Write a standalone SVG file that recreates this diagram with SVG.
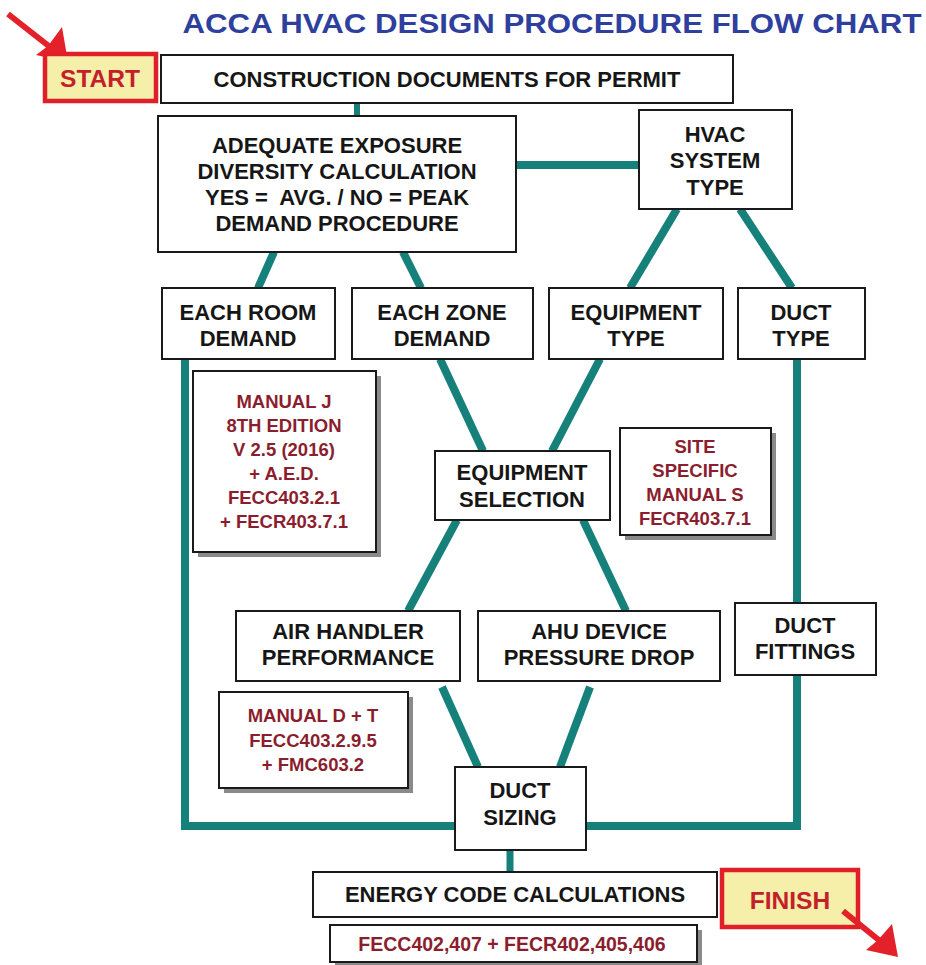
<svg xmlns="http://www.w3.org/2000/svg" width="926" height="965" viewBox="0 0 926 965">
<defs>
<style>
.bg{fill:#ffffff}
.box{fill:#ffffff;stroke:#1a1a1a;stroke-width:2}
.sh{fill:#8a8a8a}
.t{font-family:"Liberation Sans",Arial,sans-serif;font-weight:bold;font-size:22px;fill:#161616;text-anchor:middle}
.r{font-family:"Liberation Sans",Arial,sans-serif;font-weight:bold;font-size:18.5px;fill:#8b1e2e;text-anchor:middle}
.tag{fill:#f6efa9;stroke:#e01f28;stroke-width:4.5}
.tagt{font-family:"Liberation Sans",Arial,sans-serif;font-weight:bold;font-size:24.5px;fill:#c4202b;text-anchor:middle}
.c{stroke:#16807a;stroke-width:8;fill:none;stroke-linecap:butt}
.arr{fill:#e3212b}
.arrs{stroke:#e3212b;stroke-width:6;fill:none}
</style>
</defs>
<rect class="bg" x="0" y="0" width="926" height="965"/>
<text x="552" y="33" font-family="'Liberation Sans',Arial,sans-serif" font-weight="bold" font-size="27" fill="#2e3f9e" text-anchor="middle" textLength="739" lengthAdjust="spacingAndGlyphs">ACCA HVAC DESIGN PROCEDURE FLOW CHART</text>

<g id="connectors">
<line class="c" x1="357" y1="103" x2="357" y2="116" style="stroke-width:6"/>
<line class="c" x1="516" y1="165" x2="639" y2="165"/>
<line class="c" x1="677" y1="209" x2="630" y2="288"/>
<line class="c" x1="740" y1="209" x2="792" y2="288"/>
<line class="c" x1="274" y1="252" x2="258" y2="288"/>
<line class="c" x1="403" y1="252" x2="421" y2="288"/>
<line class="c" x1="440" y1="359" x2="483" y2="451"/>
<line class="c" x1="600" y1="359" x2="552" y2="451"/>
<line class="c" x1="457" y1="520" x2="408" y2="611"/>
<line class="c" x1="583" y1="520" x2="626" y2="611"/>
<line class="c" x1="442" y1="687" x2="478" y2="767"/>
<line class="c" x1="590" y1="687" x2="560" y2="767"/>
<polyline class="c" points="185,359 185,826 797,826 797,359"/>
<line class="c" x1="510" y1="850" x2="510" y2="872" style="stroke-width:7"/>
</g>

<g id="start-arrow">
<line class="arrs" x1="8" y1="14" x2="50" y2="47"/>
<polygon class="arr" points="68,62 36,55 48,46 62,27"/>
</g>
<g id="start">
<rect class="tag" x="45" y="54" width="111" height="47"/>
<text class="tagt" x="100" y="87">START</text>
</g>

<g id="construction">
<rect class="box" x="161" y="55" width="572" height="48"/>
<text class="t" x="447" y="87">CONSTRUCTION DOCUMENTS FOR PERMIT</text>
</g>

<g id="adequate">
<rect class="box" x="158" y="116" width="358" height="136"/>
<text class="t" x="337" y="153">ADEQUATE EXPOSURE</text>
<text class="t" x="337" y="179">DIVERSITY CALCULATION</text>
<text class="t" x="337" y="205" xml:space="preserve">YES =  AVG. / NO = PEAK</text>
<text class="t" x="337" y="231">DEMAND PROCEDURE</text>
</g>

<g id="hvac">
<rect class="box" x="639" y="110" width="153" height="99"/>
<text class="t" x="715" y="142">HVAC</text>
<text class="t" x="715" y="168">SYSTEM</text>
<text class="t" x="715" y="195">TYPE</text>
</g>

<g id="room">
<rect class="box" x="162" y="288" width="173" height="71"/>
<text class="t" x="248" y="320">EACH ROOM</text>
<text class="t" x="248" y="346">DEMAND</text>
</g>

<g id="zone">
<rect class="box" x="352" y="288" width="181" height="71"/>
<text class="t" x="442" y="320">EACH ZONE</text>
<text class="t" x="442" y="346">DEMAND</text>
</g>

<g id="equipment-type">
<rect class="box" x="549" y="288" width="174" height="71"/>
<text class="t" x="636" y="320">EQUIPMENT</text>
<text class="t" x="636" y="346">TYPE</text>
</g>

<g id="duct-type">
<rect class="box" x="738" y="288" width="127" height="71"/>
<text class="t" x="801" y="320">DUCT</text>
<text class="t" x="801" y="346">TYPE</text>
</g>

<g id="manual-j">
<rect class="sh" x="198" y="376" width="183" height="181"/>
<rect class="box" x="193" y="371" width="183" height="181"/>
<text class="r" x="284" y="408">MANUAL J</text>
<text class="r" x="284" y="432">8TH EDITION</text>
<text class="r" x="284" y="456">V 2.5 (2016)</text>
<text class="r" x="284" y="480">+ A.E.D.</text>
<text class="r" x="284" y="504">FECC403.2.1</text>
<text class="r" x="284" y="528">+ FECR403.7.1</text>
</g>

<g id="equipment-selection">
<rect class="box" x="435" y="451" width="175" height="69"/>
<text class="t" x="522" y="480">EQUIPMENT</text>
<text class="t" x="522" y="507">SELECTION</text>
</g>

<g id="site-specific">
<rect class="sh" x="625" y="433" width="151" height="107"/>
<rect class="box" x="620" y="428" width="151" height="107"/>
<text class="r" x="695" y="453">SITE</text>
<text class="r" x="695" y="477">SPECIFIC</text>
<text class="r" x="695" y="501">MANUAL S</text>
<text class="r" x="695" y="525">FECR403.7.1</text>
</g>

<g id="air-handler">
<rect class="box" x="236" y="611" width="224" height="70"/>
<text class="t" x="348" y="639">AIR HANDLER</text>
<text class="t" x="348" y="665">PERFORMANCE</text>
</g>

<g id="ahu">
<rect class="box" x="478" y="611" width="242" height="70"/>
<text class="t" x="599" y="639">AHU DEVICE</text>
<text class="t" x="599" y="665">PRESSURE DROP</text>
</g>

<g id="duct-fittings">
<rect class="box" x="735" y="603" width="141" height="72"/>
<text class="t" x="805" y="633">DUCT</text>
<text class="t" x="805" y="659">FITTINGS</text>
</g>

<g id="manual-d">
<rect class="sh" x="224" y="697" width="189" height="96"/>
<rect class="box" x="219" y="692" width="189" height="96"/>
<text class="r" x="313" y="722">MANUAL D + T</text>
<text class="r" x="313" y="747">FECC403.2.9.5</text>
<text class="r" x="313" y="771">+ FMC603.2</text>
</g>

<g id="duct-sizing">
<rect class="box" x="455" y="767" width="131" height="83"/>
<text class="t" x="520" y="798">DUCT</text>
<text class="t" x="520" y="825">SIZING</text>
</g>

<g id="energy">
<rect class="box" x="313" y="872" width="404" height="45"/>
<text class="t" x="515" y="902">ENERGY CODE CALCULATIONS</text>
</g>

<g id="fecc">
<rect class="sh" x="335" y="930" width="367" height="37"/>
<rect class="box" x="330" y="925" width="367" height="37"/>
<text class="r" x="512" y="951" style="font-size:19.5px">FECC402,407 + FECR402,405,406</text>
</g>

<g id="finish">
<rect class="tag" x="722" y="870" width="136" height="57"/>
<text class="tagt" x="790" y="909">FINISH</text>
</g>
<g id="finish-arrow">
<line class="arrs" x1="843" y1="911" x2="880" y2="941"/>
<polygon class="arr" points="898,957 866,950 878,940 892,924"/>
</g>
</svg>
